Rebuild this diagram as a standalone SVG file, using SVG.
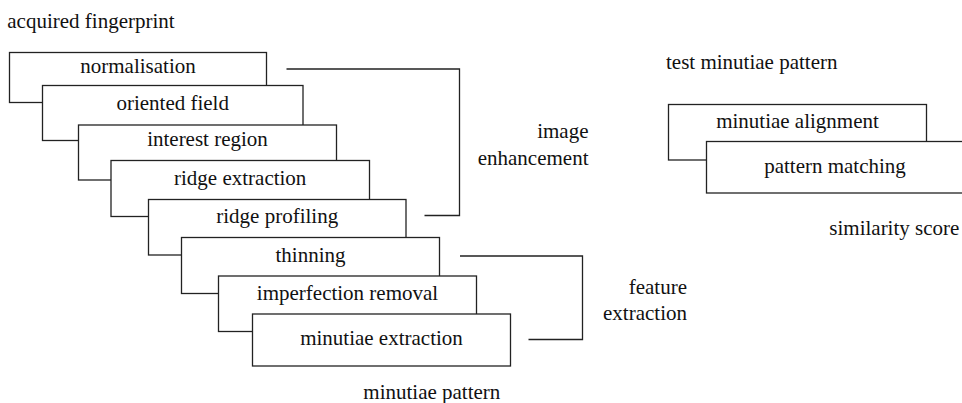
<svg xmlns="http://www.w3.org/2000/svg" width="962" height="403" viewBox="0 0 962 403">
<style>
.box{fill:#fff;stroke:#222;stroke-width:1.3}
.br{fill:none;stroke:#222;stroke-width:1.3}
text{font-size:21px;fill:#111}
.c{text-anchor:middle}
.r{text-anchor:end}
</style>
<rect width="962" height="403" fill="#fff"/>
<g font-family="'Liberation Serif', 'Times New Roman', 'DejaVu Serif', serif">
<text id="lbl-acquired" x="7.3" y="28">acquired fingerprint</text>
<g id="connectors">
<path class="br" d="M286.5 69 H459.5 V215.5 H424.5"/>
<path class="br" d="M460 256 H582.5 V339.5 H528.5"/>
</g>
<g id="n-normalisation"><rect class="box" x="9.5" y="52.5" width="257" height="50"/><text class="c" x="138" y="73">normalisation</text></g>
<g id="n-oriented"><rect class="box" x="42.5" y="85.5" width="260.5" height="55"/><text class="c" x="172.7" y="110">oriented field</text></g>
<g id="n-interest"><rect class="box" x="78.5" y="125" width="258" height="55"/><text class="c" x="207.5" y="146">interest region</text></g>
<g id="n-ridgeext"><rect class="box" x="111" y="160.5" width="258.5" height="56"/><text class="c" x="240.2" y="185">ridge extraction</text></g>
<g id="n-ridgeprof"><rect class="box" x="148.5" y="199.5" width="257.5" height="55.5"/><text class="c" x="277.2" y="223">ridge profiling</text></g>
<g id="n-thinning"><rect class="box" x="181.5" y="237.5" width="258" height="56"/><text class="c" x="310.5" y="262">thinning</text></g>
<g id="n-imperfection"><rect class="box" x="218.5" y="276" width="258" height="55.5"/><text class="c" x="347.5" y="300">imperfection removal</text></g>
<g id="n-minext"><rect class="box" x="252.5" y="314" width="258" height="52"/><text class="c" x="381.5" y="345">minutiae extraction</text></g>
<text id="lbl-minpattern" x="363.3" y="399">minutiae pattern</text>
<g id="lbl-image"><text class="r" x="588.5" y="138.3">image</text><text class="r" x="588.5" y="165">enhancement</text></g>
<g id="lbl-feature"><text class="r" x="687" y="294">feature</text><text class="r" x="687" y="320">extraction</text></g>
<text id="lbl-test" x="666" y="69">test minutiae pattern</text>
<g id="n-alignment"><rect class="box" x="668.5" y="104.5" width="258" height="55.5"/><text class="c" x="797.5" y="128.3">minutiae alignment</text></g>
<g id="n-matching"><rect class="box" x="706.5" y="141.5" width="258" height="51.5"/><text class="c" x="835" y="173.3">pattern matching</text></g>
<text id="lbl-similarity" x="829.3" y="235">similarity score</text>
</g>
</svg>
